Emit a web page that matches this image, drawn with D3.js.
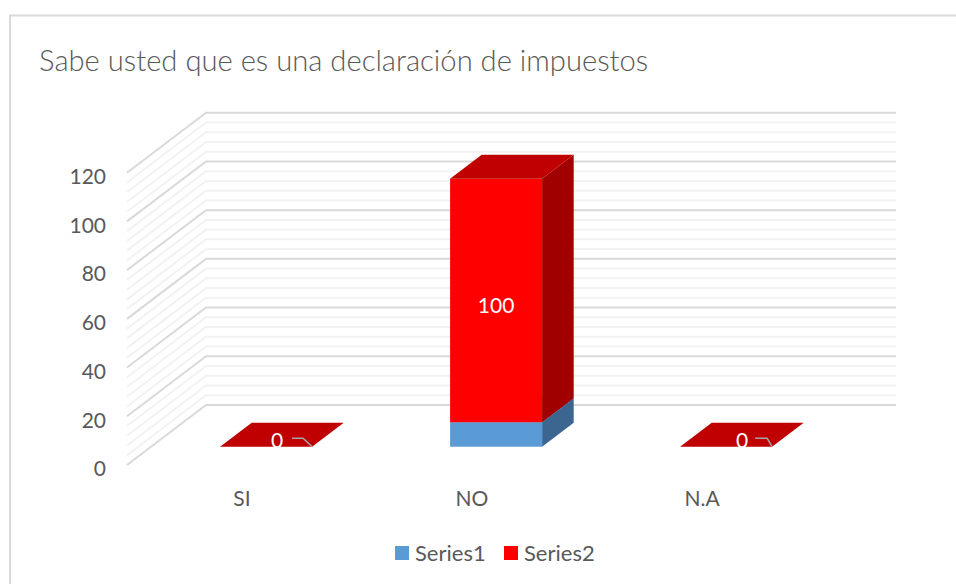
<!DOCTYPE html>
<html>
<head>
<meta charset="utf-8">
<script src="https://cdn.jsdelivr.net/npm/d3@7"></script>
<style>
  html, body { margin: 0; padding: 0; background: #fff; }
  svg { display: block; }
  text { font-family: Lato, "Open Sans", sans-serif; fill: #595959; }
</style>
</head>
<body>
<svg id="chart" width="956" height="584"></svg>
<script>
// values
var categories = ["SI", "NO", "N.A"];
var series1 = [0, 10, 0];
var series2 = [0, 100, 0];
var seriesNames = ["Series1", "Series2"];
var valueTicks = [0, 20, 40, 60, 80, 100, 120];
var minorTicks = [4, 8, 12, 16, 24, 28, 32, 36, 44, 48, 52, 56, 64, 68, 72, 76, 84, 88, 92, 96, 104, 108, 112, 116];

var svg = d3.select("#chart");

// front plane of the 3d box
var x = d3.scaleBand().domain(categories).range([127, 817]);
var y = d3.scaleLinear().domain([0, 120]).range([465, 172.7]);

// how far the depth axis pushes a point, 0 = front wall, 1 = back wall
var depthX = d3.scaleLinear().domain([0, 1]).range([0, 79]);
var depthY = d3.scaleLinear().domain([0, 1]).range([0, -60]);

var barShare = 0.4, barFront = 0.305, barBack = 0.705;
var line = d3.line();

function pt(px, v, d) {
  return [px + depthX(d), y(v) + depthY(d)];
}

// chart frame, right and bottom sides are cut off by the picture
svg.append("path")
    .attr("d", "M10,584V15.5H956")
    .attr("fill", "none")
    .attr("stroke", "#d9d9d9")
    .attr("stroke-width", 2);

svg.append("text")
    .attr("x", 39)
    .attr("y", 71)
    .attr("font-size", 29.2)
    .attr("font-weight", 300)
    .text("Sabe usted que es una declaración de impuestos");

// gridlines, side wall then back wall
function grid(vals, color) {
  svg.append("g").selectAll("path").data(vals).join("path")
      .attr("d", function(v) {
        return line([pt(x.range()[0], v, 0), pt(x.range()[0], v, 1), pt(x.range()[1], v, 1)]);
      })
      .attr("fill", "none")
      .attr("stroke", color)
      .attr("stroke-width", 2);
}
grid(minorTicks, "#f2f2f2");
grid(valueTicks, "#d9d9d9");

// one stacked box
function drawBox(cat, v0, v1, front, top, side) {
  var left = x(cat) + (x.bandwidth() - x.bandwidth() * barShare) / 2;
  var right = left + x.bandwidth() * barShare;
  var g = svg.append("g");
  function face(pts, color) {
    g.append("path").attr("d", line(pts) + "Z").attr("fill", color);
  }
  face([pt(right, v0, barFront), pt(right, v0, barBack), pt(right, v1, barBack), pt(right, v1, barFront)], side);
  face([pt(left, v0, barFront), pt(right, v0, barFront), pt(right, v1, barFront), pt(left, v1, barFront)], front);
  face([pt(left, v1, barFront), pt(right, v1, barFront), pt(right, v1, barBack), pt(left, v1, barBack)], top);
}

categories.forEach(function(c, i) {
  if (series1[i] > 0) drawBox(c, 0, series1[i], "#5b9bd5", "#4a80b0", "#3c6690");
  drawBox(c, series1[i], series1[i] + series2[i], "#ff0000", "#c00000", "#a00000");
});

// data labels of series2
var labelShift = [11, 0, 16];
var leaderIn = [20, 0, 17];
var leaderElbow = [9, 0, 5];
categories.forEach(function(c, i) {
  var mid = x(c) + x.bandwidth() / 2;
  var base = series1[i] + series2[i] / 2;
  var p = pt(mid, base, barFront);
  svg.append("text")
      .attr("x", p[0] + labelShift[i])
      .attr("y", p[1] + (series2[i] > 0 ? 5 : -6))
      .attr("dy", "0.35em")
      .attr("text-anchor", "middle")
      .attr("font-size", 21)
      .style("fill", "#fff")
      .text(series2[i]);
  if (series2[i] === 0) {
    var r = pt(x(c) + x.bandwidth() * (0.5 + barShare / 2), 0, barFront);
    svg.append("path")
        .attr("d", line([[r[0] - leaderIn[i], r[1] - 8.5], [r[0] - leaderElbow[i], r[1] - 8.5], r]))
        .attr("fill", "none")
        .attr("stroke", "#a6a6a6")
        .attr("stroke-width", 1.5);
  }
});

// axes, only their labels show
var yAxis = svg.append("g")
    .attr("transform", "translate(106,4)")
    .call(d3.axisLeft(y).tickValues(valueTicks).tickSize(0).tickPadding(0));
var xAxis = svg.append("g")
    .attr("transform", "translate(0,491)")
    .call(d3.axisBottom(x).tickSize(0).tickPadding(0));
[yAxis, xAxis].forEach(function(a) {
  a.select(".domain").remove();
  a.selectAll("text").attr("font-size", 21).style("fill", "#595959");
  a.attr("font-family", null);
});

// legend
var legendX = d3.scaleOrdinal().domain(seriesNames).range([395, 504]);
var legendColor = d3.scaleOrdinal().domain(seriesNames).range(["#5b9bd5", "#ff0000"]);
var legend = svg.append("g").selectAll("g").data(seriesNames).join("g")
    .attr("transform", function(d) { return "translate(" + legendX(d) + ",546)"; });
legend.append("rect")
    .attr("width", 14)
    .attr("height", 14)
    .attr("fill", function(d) { return legendColor(d); });
legend.append("text")
    .attr("x", 20)
    .attr("y", 15)
    .attr("font-size", 22)
    .text(function(d) { return d; });
</script>
</body>
</html>
